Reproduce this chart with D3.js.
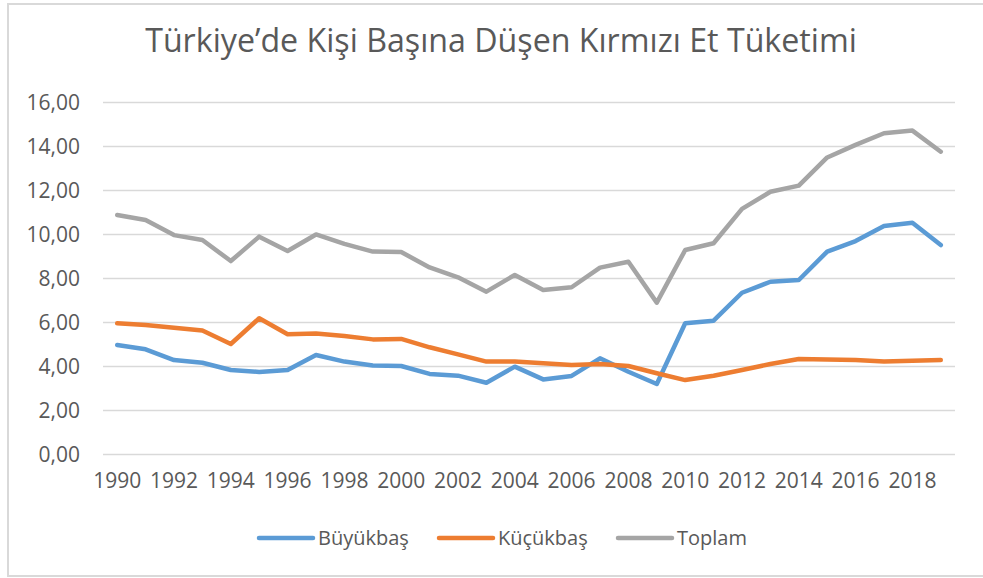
<!DOCTYPE html>
<html>
<head>
<meta charset="utf-8">
<script src="https://cdn.jsdelivr.net/npm/d3@7"></script>
<style>
	body { margin: 0; background: #fff; }
	svg { display: block; }
	text { font-family: "Open Sans", sans-serif; fill: #595959; }
</style>
</head>
<body>
<svg id="chart" width="983" height="578"></svg>
<script>
var years = d3.range(1990, 2020);
var buyukbas = [4.95, 4.76, 4.27, 4.15, 3.82, 3.73, 3.82, 4.50, 4.20, 4.02,
	4.00, 3.64, 3.56, 3.24, 3.97, 3.39, 3.55, 4.35, 3.74, 3.18,
	5.94, 6.06, 7.33, 7.83, 7.91, 9.20, 9.68, 10.36, 10.51, 9.50];
var kucukbas = [5.94, 5.86, 5.74, 5.61, 5.00, 6.17, 5.44, 5.48, 5.36, 5.21,
	5.23, 4.85, 4.53, 4.20, 4.20, 4.12, 4.05, 4.09, 4.00, 3.67,
	3.36, 3.56, 3.82, 4.09, 4.32, 4.30, 4.27, 4.20, 4.24, 4.27];
var toplam = [10.86, 10.64, 9.95, 9.73, 8.77, 9.88, 9.23, 9.98, 9.55, 9.20,
	9.18, 8.48, 8.03, 7.38, 8.14, 7.45, 7.58, 8.47, 8.74, 6.88,
	9.27, 9.58, 11.14, 11.92, 12.20, 13.48, 14.05, 14.58, 14.70, 13.74];
var yTicks = [0, 2, 4, 6, 8, 10, 12, 14, 16];
var seriesNames = ["Büyükbaş", "Küçükbaş", "Toplam"];
var seriesColors = ["#5b9bd5", "#ed7d31", "#a5a5a5"];
var titleText = "Türkiye’de Kişi Başına Düşen Kırmızı Et Tüketimi";

var svg = d3.select("#chart");
var plotLeft = 103;
var plotRight = 955;
var plotTop = 102;
var plotBottom = 454;
var fontSize = 21;

// outer chart border
svg.append("rect")
	.attr("x", 8)
	.attr("y", 4)
	.attr("width", 990)
	.attr("height", 572)
	.attr("fill", "#fff")
	.attr("stroke", "#d9d9d9")
	.attr("stroke-width", 2);

var x = d3.scaleBand()
	.domain(years)
	.range([plotLeft, plotRight]);

var y = d3.scaleLinear()
	.domain([0, 16])
	.range([plotBottom, plotTop]);

// gridlines + y labels
var yAxis = d3.axisLeft(y)
	.tickValues(yTicks)
	.tickSize(-(plotRight - plotLeft))
	.tickPadding(23)
	.tickFormat(function (d) { return d3.format(".2f")(d).replace(".", ","); });

var gy = svg.append("g")
	.attr("transform", "translate(" + plotLeft + ",0)")
	.call(yAxis);
gy.select(".domain").remove();
gy.selectAll("line").attr("stroke", "#d9d9d9").attr("stroke-width", 1.5);
gy.selectAll("text")
	.attr("font-size", fontSize)
	.attr("dy", "0.36em")
	.style("font-family", "'Open Sans', sans-serif")
	.attr("fill", "#595959");

// x labels, every second year
var xAxis = d3.axisBottom(x)
	.tickValues(years.filter(function (d) { return d % 2 === 0; }))
	.tickSize(0)
	.tickPadding(19);

var gx = svg.append("g")
	.attr("transform", "translate(0," + plotBottom + ")")
	.call(xAxis);
gx.select(".domain").remove();
gx.selectAll("text")
	.attr("font-size", fontSize)
	.style("font-family", "'Open Sans', sans-serif")
	.attr("fill", "#595959");

// lines
var line = d3.line()
	.x(function (d, i) { return x(years[i]) + x.bandwidth() / 2; })
	.y(function (d) { return y(d); });

[buyukbas, kucukbas, toplam].forEach(function (values, i) {
	svg.append("path")
		.datum(values)
		.attr("d", line)
		.attr("fill", "none")
		.attr("stroke", seriesColors[i])
		.attr("stroke-width", 4.5)
		.attr("stroke-linejoin", "round")
		.attr("stroke-linecap", "round");
});

// legend
var legendX = [259, 439, 618];
var legend = svg.append("g").attr("transform", "translate(0,538)");
seriesNames.forEach(function (name, i) {
	legend.append("line")
		.attr("x1", legendX[i])
		.attr("x2", legendX[i] + 54)
		.attr("stroke", seriesColors[i])
		.attr("stroke-width", 4.5)
		.attr("stroke-linecap", "round");
	legend.append("text")
		.attr("x", legendX[i] + 59)
		.attr("dy", "0.36em")
		.attr("font-size", 20)
		.text(name);
});

// title, sized to the reference width
var title = svg.append("text")
	.attr("x", 501)
	.attr("y", 52)
	.attr("text-anchor", "middle")
	.attr("font-size", 26)
	.text(titleText);
var tw = title.node().getComputedTextLength();
title.attr("font-size", 26 * 712 / tw);
</script>
</body>
</html>
